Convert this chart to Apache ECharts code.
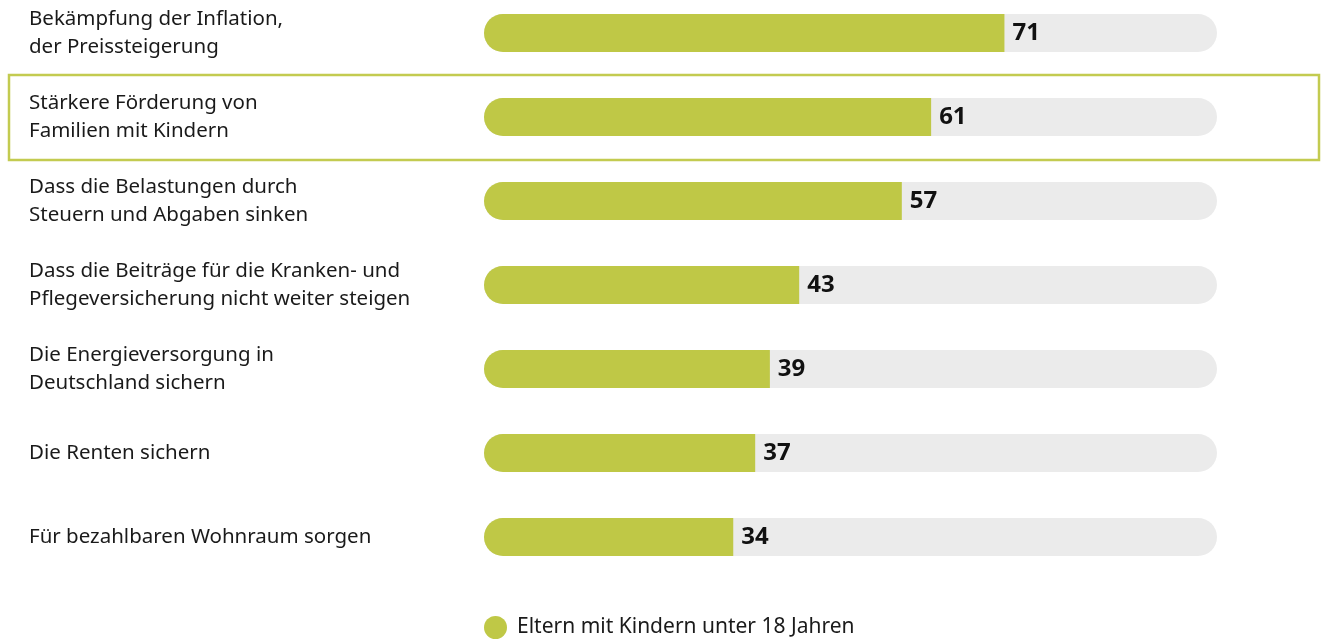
<!DOCTYPE html>
<html>
<head>
<meta charset="utf-8">
<script src="https://cdn.jsdelivr.net/npm/echarts@6/dist/echarts.min.js"></script>
<style>
    * { margin: 0; padding: 0; }
    html, body { background: #fff; }
    #chart { width: 1321px; height: 640px; }
</style>
</head>
<body>
<div id="chart"></div>
<script>
    // Kategorien (von oben nach unten)
    const categories = [
        'Bekämpfung der Inflation,\nder Preissteigerung',
        'Stärkere Förderung von\nFamilien mit Kindern',
        'Dass die Belastungen durch\nSteuern und Abgaben sinken',
        'Dass die Beiträge für die Kranken- und\nPflegeversicherung nicht weiter steigen',
        'Die Energieversorgung in\nDeutschland sichern',
        'Die Renten sichern',
        'Für bezahlbaren Wohnraum sorgen'
    ];
    const values = [71, 61, 57, 43, 39, 37, 34];
    const seriesName = 'Eltern mit Kindern unter 18 Jahren';
    const highlighted = 1; // markierte Zeile

    const green = '#bfc846';
    const font = '"Noto Sans", "Open Sans", sans-serif';

    let myChart = echarts.init(document.getElementById('chart'));

    let option = {
        animation: false,
        textStyle: { fontFamily: font },
        grid: { left: 484, right: 104, top: -9, height: 588, outerBoundsMode: 'none', containLabel: false },
        legend: {
            data: [seriesName],
            left: 484,
            top: 616,
            padding: 0,
            icon: 'circle',
            itemWidth: 23,
            itemHeight: 23,
            itemGap: 10,
            textStyle: { fontSize: 21, color: '#1a1a1a', fontFamily: font, padding: [0, 0, 0, 5] }
        },
        xAxis: {
            type: 'value',
            min: 0,
            max: 100,
            show: false
        },
        yAxis: {
            type: 'category',
            data: categories,
            inverse: true,
            axisLine: { show: false },
            axisTick: { show: false },
            axisLabel: {
                align: 'left',
                margin: 455,
                fontSize: 20.5,
                lineHeight: 28,
                padding: [4, 0, 0, 0],
                color: '#1a1a1a',
                fontFamily: font
            }
        },
        series: [{
            name: seriesName,
            type: 'bar',
            data: values,
            barWidth: 38,
            itemStyle: { color: green, borderRadius: [19, 0, 0, 19] },
            showBackground: true,
            backgroundStyle: { color: '#ebebeb', borderRadius: 19 },
            label: {
                show: true,
                position: 'right',
                distance: 8,
                fontSize: 24,
                fontWeight: 'bold',
                color: '#111',
                fontFamily: font
            }
        }]
    };
    myChart.setOption(option);

    // Rahmen um die markierte Zeile, Lage aus der Kategorieachse
    let cy = myChart.convertToPixel({ yAxisIndex: 0 }, categories[highlighted]);
    let band = 84;
    myChart.setOption({
        graphic: [{
            type: 'rect',
            shape: { x: 9, y: cy - band / 2, width: 1310, height: band + 1 },
            style: { fill: 'none', stroke: '#c3cb50', lineWidth: 2.5 },
            z: 0
        }]
    });
</script>
</body>
</html>
